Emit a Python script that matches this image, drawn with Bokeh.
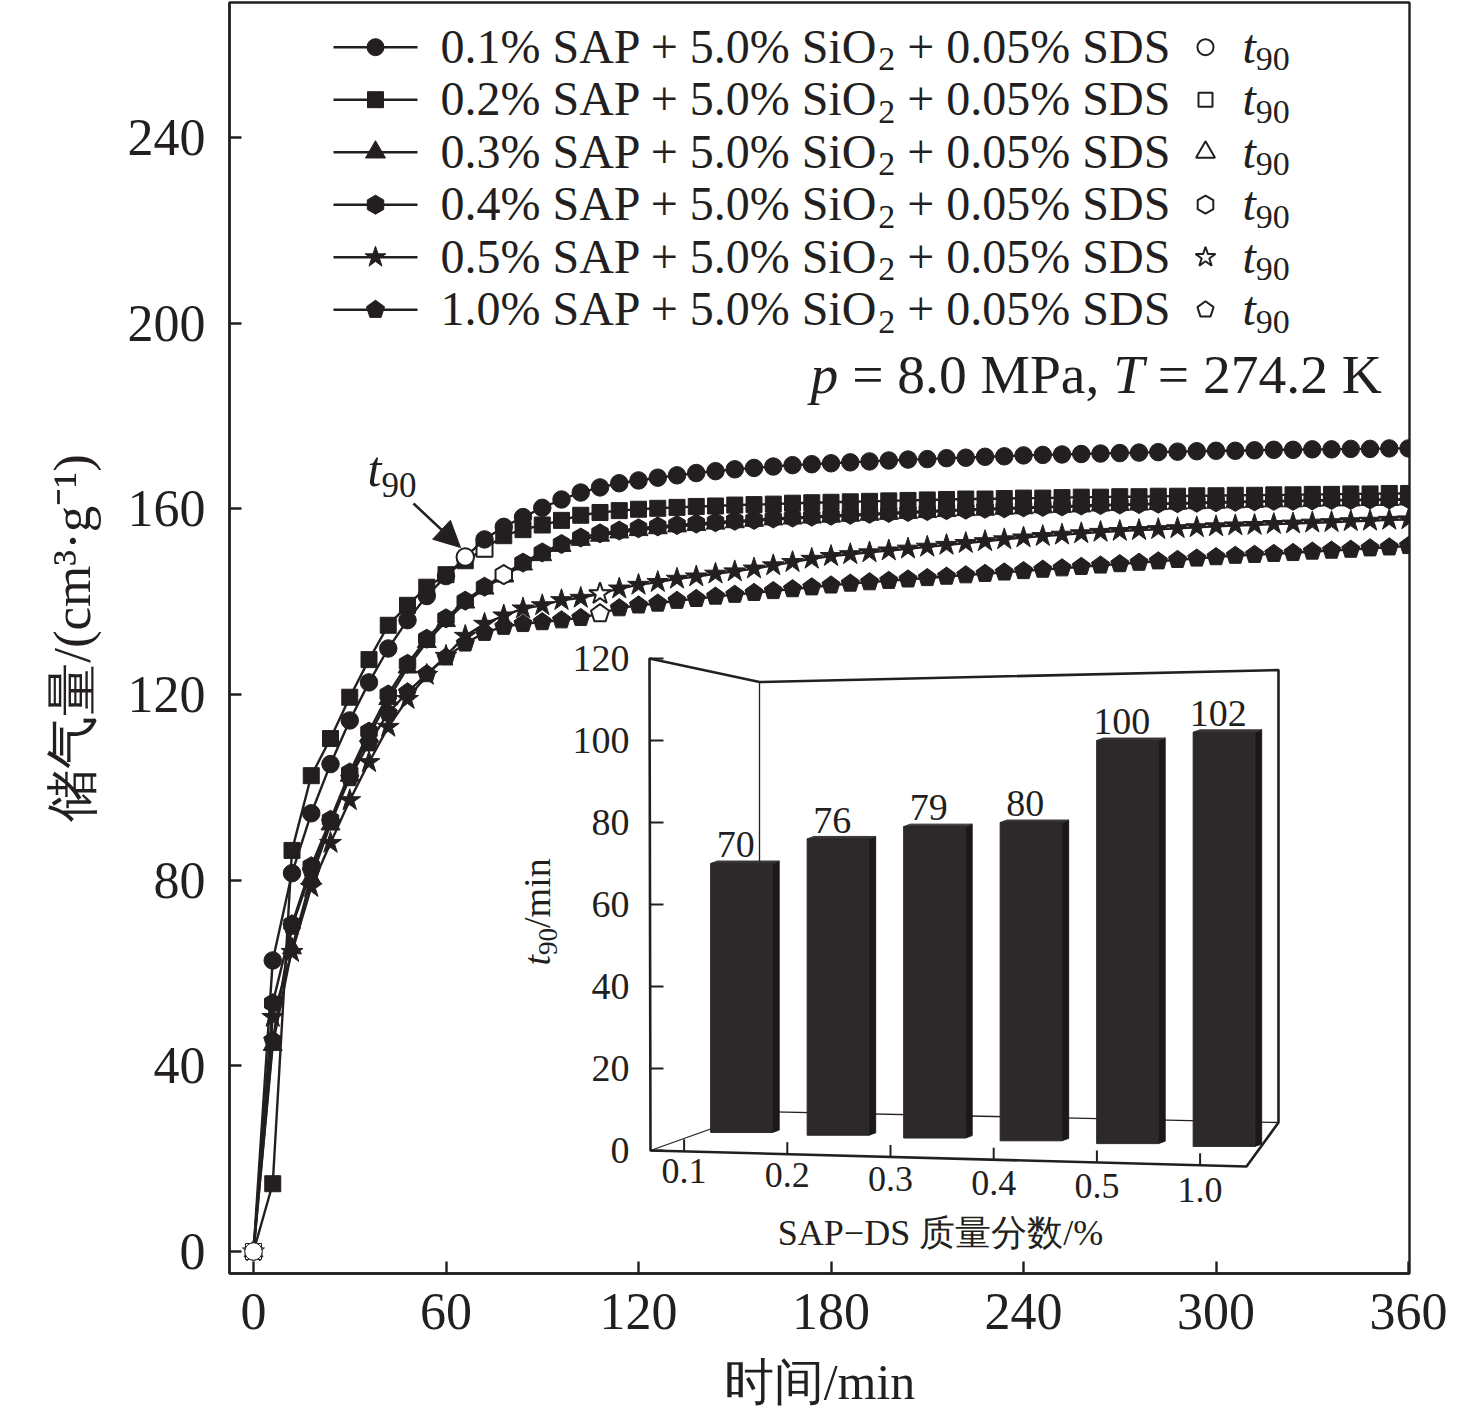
import numpy as np
from bokeh.plotting import figure
from bokeh.models import Range1d, Label, Arrow, NormalHead, FixedTicker
from bokeh.embed import file_html
from bokeh.resources import INLINE
from bokeh.core.properties import value

# ---------------- data ----------------
time_min = list(range(0, 361, 6))

sap_pct = ["0.1", "0.2", "0.3", "0.4", "0.5", "1.0"]

c01 = [0.0, 62.7, 81.5, 94.4, 105.0, 114.4, 122.6, 129.9, 136.0, 141.2,
       145.5, 149.6, 153.4, 156.1, 158.2, 160.2, 162.0, 163.5, 164.6, 165.5,
       166.1, 166.7, 167.2, 167.7, 168.1, 168.5, 168.8, 169.1, 169.4, 169.6,
       169.8, 170.0, 170.2, 170.4, 170.6, 170.7, 170.9, 171.0, 171.2, 171.3,
       171.5, 171.6, 171.7, 171.8, 171.9, 172.0, 172.1, 172.2, 172.3, 172.4,
       172.5, 172.5, 172.6, 172.7, 172.7, 172.8, 172.8, 172.9, 172.9, 173.0,
       173.0]
s02 = [0.0, 14.6, 86.4, 102.5, 110.5, 119.4, 127.5, 134.9, 139.2, 143.1,
       145.8, 148.8, 151.4, 154.2, 155.5, 156.5, 157.5, 158.6, 159.2, 159.6,
       159.9, 160.1, 160.3, 160.5, 160.6, 160.8, 160.9, 161.0, 161.2, 161.3,
       161.4, 161.5, 161.6, 161.7, 161.8, 161.9, 162.0, 162.1, 162.1, 162.2,
       162.3, 162.3, 162.4, 162.5, 162.5, 162.6, 162.6, 162.7, 162.7, 162.8,
       162.8, 162.9, 162.9, 163.0, 163.0, 163.1, 163.1, 163.2, 163.2, 163.3,
       163.3]
t03 = [0.0, 44.5, 65.3, 80.5, 92.0, 102.5, 111.0, 119.0, 125.8, 131.3,
       135.8, 139.8, 142.8, 145.5, 148.0, 150.0, 152.0, 153.3, 154.2, 154.9,
       155.4, 155.8, 156.2, 156.5, 156.8, 157.1, 157.4, 157.7, 157.9, 158.1,
       158.3, 158.5, 158.7, 158.9, 159.1, 159.3, 159.5, 159.7, 159.8, 160.0,
       160.1, 160.3, 160.4, 160.5, 160.7, 160.8, 160.9, 161.0, 161.1, 161.2,
       161.3, 161.4, 161.5, 161.6, 161.6, 161.7, 161.8, 161.8, 161.9, 161.9,
       162.0]
h04 = [0.0, 53.5, 70.5, 83.0, 93.0, 103.2, 112.0, 120.0, 126.6, 132.0,
       136.4, 140.2, 143.2, 145.8, 148.4, 150.6, 152.4, 153.8, 154.7, 155.3,
       155.8, 156.2, 156.5, 156.8, 157.1, 157.4, 157.6, 157.9, 158.1, 158.3,
       158.5, 158.7, 158.9, 159.1, 159.3, 159.5, 159.7, 159.8, 160.0, 160.1,
       160.3, 160.4, 160.5, 160.7, 160.8, 160.9, 161.0, 161.1, 161.2, 161.3,
       161.4, 161.5, 161.6, 161.7, 161.7, 161.8, 161.9, 161.9, 162.0, 162.0,
       162.1]
st05 = [0.0, 50.5, 64.5, 78.5, 88.0, 97.2, 105.4, 113.0, 119.0, 124.2,
        128.3, 132.6, 135.2, 137.0, 138.5, 139.2, 140.3, 140.8, 141.7, 142.8,
        143.6, 144.2, 144.9, 145.4, 146.0, 146.5, 147.1, 147.8, 148.5, 149.2,
        149.8, 150.2, 150.6, 151.0, 151.4, 151.8, 152.2, 152.6, 153.0, 153.4,
        153.8, 154.1, 154.4, 154.7, 155.0, 155.2, 155.4, 155.6, 155.8, 156.0,
        156.2, 156.4, 156.5, 156.7, 156.8, 157.0, 157.1, 157.3, 157.4, 157.6,
        157.7]
p10 = [0.0, 45.5, 70.0, 82.0, 92.5, 102.0, 109.5, 116.0, 120.5, 124.4,
       128.0, 131.0, 133.3, 134.6, 135.2, 135.6, 136.0, 136.5, 137.4, 138.6,
       139.2, 139.6, 140.2, 140.6, 141.1, 141.5, 141.9, 142.3, 142.7, 143.1,
       143.5, 143.9, 144.2, 144.5, 144.8, 145.1, 145.4, 145.7, 146.0, 146.3,
       146.6, 146.9, 147.2, 147.5, 147.8, 148.1, 148.4, 148.7, 149.0, 149.3,
       149.6, 149.9, 150.1, 150.3, 150.5, 150.8, 151.0, 151.2, 151.5, 151.7,
       152.0]

t90_marker_time = [66, 72, 78, 78, 108, 108]   # open-symbol positions on curves
t90_values = [70, 76, 79, 80, 100, 102]         # inset bars (min)

x_ticks = [0, 60, 120, 180, 240, 300, 360]
y_ticks = [0, 40, 80, 120, 160, 200, 240]
inset_y_ticks = [0, 20, 40, 60, 80, 100, 120]

series = [c01, s02, t03, h04, st05, p10]
markers = ["circle", "square", "triangle", "hex", "star", "pentagon"]

# ---------------- style ----------------
INK = "#231f20"
SERIF = "Liberation Serif"

FT, FB = 2, 1273          # frame top / bottom in page pixels
FL, FR = 229, 1409        # frame left / right

p = figure(frame_width=FR - FL, frame_height=FB - FT,
           x_range=Range1d(-7.48, 360.3), y_range=Range1d(-4.74, 269.06),
           output_backend="svg", toolbar_location=None,
           min_border_left=FL, min_border_right=60,
           min_border_top=FT, min_border_bottom=140,
           background_fill_color="white", border_fill_color="white")
# helper coordinate systems: page-pixel space and inset space
p.extra_x_ranges = {"px": Range1d(FL, FR), "ix": Range1d(-5.306, 6.922)}
p.extra_y_ranges = {"py": Range1d(FB, FT), "iy": Range1d(-30.0, 280.0)}

p.grid.visible = False
p.outline_line_color = INK
p.outline_line_width = 2.4
p.outline_line_alpha = 1
p.xaxis.ticker = FixedTicker(ticks=x_ticks)
p.yaxis.ticker = FixedTicker(ticks=y_ticks)
for ax in (p.xaxis, p.yaxis):
    ax.major_tick_in = 12
    ax.major_tick_out = 0
    ax.minor_tick_line_color = None
    ax.axis_line_width = 2.4
    ax.axis_line_color = INK
    ax.major_tick_line_width = 2.4
    ax.major_tick_line_color = INK
    ax.major_label_text_font = SERIF
    ax.major_label_text_font_size = "52px"
    ax.major_label_text_color = INK
    ax.axis_label_text_font = SERIF
    ax.axis_label_text_font_size = "50px"
    ax.axis_label_text_font_style = "normal"
    ax.axis_label_text_color = INK
p.xaxis.axis_label = "时间/min"
p.yaxis.axis_label = "储气量/(cm³·g⁻¹)"
p.yaxis.axis_label_text_font_size = "53px"
p.yaxis.major_label_standoff = 24
p.yaxis.axis_label_standoff = 24
p.xaxis.major_label_standoff = 20
p.xaxis.axis_label_standoff = 22

XS = (FR - FL) / (360.3 + 7.48)      # px per minute
YS = (FB - FT) / (269.06 + 4.74)     # px per unit


def pent_patches(cx, cy, rx, ry, down=False):
    ang = np.pi / 2 + 2 * np.pi * np.arange(5) / 5
    sgn = -1 if down else 1
    xs = [list(x + rx * np.cos(ang)) for x in cx]
    ys = [list(y + sgn * ry * np.sin(ang)) for y in cy]
    return xs, ys


sizes = {"circle": 17.5, "square": 16, "triangle": 19, "hex": 19, "star": 23}
PR = 9.5

# draw in reverse so 0.1% lies on top
order = [5, 4, 2, 3, 1, 0]
for k in order:
    vals = series[k]
    t = time_min[:len(vals)]
    mk = markers[k]
    fills = ["white"] + [INK] * (len(vals) - 1)
    p.line(t, vals, line_color=INK, line_width=2.4)
    if mk == "pentagon":
        xs, ys = pent_patches(t, vals, PR / XS, PR / YS)
        p.patches(xs, ys, fill_color=fills, line_color=INK, line_width=1)
    else:
        ang = np.pi / 6 if mk == "hex" else 0.0
        p.scatter(t, vals, marker=mk, size=sizes[mk], angle=ang,
                  fill_color=fills, line_color=INK, line_width=1)
    # open t90 symbol
    i90 = t90_marker_time[k] // 6
    tx, ty = time_min[i90], vals[i90]
    if mk == "pentagon":
        xs, ys = pent_patches([tx], [ty], PR / XS, PR / YS)
        p.patches(xs, ys, fill_color="white", line_color=INK, line_width=2)
    else:
        ang = np.pi / 6 if mk == "hex" else 0.0
        p.scatter([tx], [ty], marker=mk, size=sizes[mk], angle=ang,
                  fill_color="white", line_color=INK, line_width=2)

# ---------------- rich text helper ----------------
W = {' ': 250, '%': 833, '+': 564, ',': 250, '.': 250, '/': 278, '=': 564,
     'A': 722, 'D': 722, 'K': 722, 'M': 889, 'O': 722, 'P': 556, 'S': 556,
     'T': 611, 'a': 444, 'i': 278, 'm': 778, 'n': 500, 'p': 500}
WI = {'p': 500, 't': 278, 'T': 556}
BASE_SHIFT = 0.375   # Label alphabetic offset observed in svg output


def twidth(s, size, italic=False):
    tot = 0
    for ch in s:
        if ch.isdigit():
            tot += 500
        elif italic and ch in WI:
            tot += WI[ch]
        else:
            tot += W.get(ch, 500)
    return tot / 1000 * size


def rich(x, y, parts, vertical=False):
    cur = x if not vertical else y
    for txt, size, style, dy in parts:
        italic = style == "italic"
        stripped = txt.strip(' ')
        lead = len(txt) - len(txt.lstrip(' '))
        wlead = twidth(' ' * lead, size)
        wfull = twidth(txt, size, italic)
        if vertical:
            lab = Label(x=x + dy - BASE_SHIFT * size, y=cur - wlead, text=stripped,
                        angle=np.pi / 2, x_range_name="px", y_range_name="py")
        else:
            lab = Label(x=cur + wlead, y=y + dy - BASE_SHIFT * size, text=stripped,
                        x_range_name="px", y_range_name="py")
        lab.text_font = SERIF
        lab.text_font_size = f"{size}px"
        lab.text_font_style = style
        lab.text_color = INK
        lab.text_baseline = "alphabetic"
        lab.text_align = "left"
        p.add_layout(lab)
        cur = cur + wfull if not vertical else cur - wfull


# ---------------- legend ----------------
row0, dyrow = 46.7, 52.5
leg_x0, leg_x1, leg_m = 333, 417, 375
open_x = 1205
for k in range(6):
    ry = row0 + dyrow * k
    mk = markers[k]
    p.segment(x0=[leg_x0], y0=[ry], x1=[leg_x1], y1=[ry], line_color=INK,
              line_width=2.4, x_range_name="px", y_range_name="py")
    if mk == "pentagon":
        xs, ys = pent_patches([leg_m], [ry], 9.5, 9.5, down=True)
        p.patches(xs, ys, fill_color=INK, line_color=INK,
                  x_range_name="px", y_range_name="py")
        xs, ys = pent_patches([open_x], [ry], 8.5, 8.5, down=True)
        p.patches(xs, ys, fill_color="white", line_color=INK, line_width=2,
                  x_range_name="px", y_range_name="py")
    else:
        ang = np.pi / 6 if mk == "hex" else 0.0
        s_leg = {"circle": 17, "square": 16, "triangle": 20, "hex": 19, "star": 22}[mk]
        p.scatter([leg_m], [ry], marker=mk, size=s_leg, angle=ang, fill_color=INK,
                  line_color=INK, x_range_name="px", y_range_name="py")
        s_op = {"circle": 16, "square": 14, "triangle": 19, "hex": 18, "star": 21}[mk]
        p.scatter([open_x], [ry], marker=mk, size=s_op, angle=ang, fill_color="white",
                  line_color=INK, line_width=2, x_range_name="px", y_range_name="py")
    rich(440, ry + 17, [(f"{sap_pct[k]}% SAP + 5.0% SiO", 48, "normal", 0),
                        ("2", 34, "normal", 8),
                        (" + 0.05% SDS", 48, "normal", 0)])
    rich(1242, ry + 17, [("t", 48, "italic", 0), ("90", 34, "normal", 8)])

# condition text
rich(810, 395, [("p", 55.5, "italic", 0), (" = 8.0 MPa, ", 55.5, "normal", 0),
                ("T", 55.5, "italic", 0), (" = 274.2 K", 55.5, "normal", 0)])

# t90 annotation with arrow
rich(367, 487, [("t", 50, "italic", 0), ("90", 35, "normal", 11)])
p.add_layout(Arrow(end=NormalHead(size=26, fill_color=INK, line_color=INK),
                   x_start=413, y_start=503, x_end=460, y_end=547,
                   line_color=INK, line_width=2.5,
                   x_range_name="px", y_range_name="py"))

# ---------------- inset (3-D bar chart) ----------------
A = (649, 658); B = (759, 681.5); C = (1278, 669.6); D = (1278, 1122)
E = (1246, 1166); F = (650, 1150); G = (759, 1111)
# thin back lines
p.multi_line(xs=[[B[0], G[0]], [F[0], G[0], D[0]]],
             ys=[[B[1], G[1]], [F[1], G[1], D[1]]],
             line_color=INK, line_width=1.3, x_range_name="px", y_range_name="py")

idx = np.arange(len(t90_values))
half = 0.32
dxs, dys = 0.07, 0.6
base = 4.4 - 0.68 * idx
vals_b = np.array(t90_values, dtype=float)
side_x = [[i + half, i + half + dxs, i + half + dxs, i + half] for i in idx]
side_y = [[b, b + dys, v + dys, v] for b, v in zip(base, vals_b)]
p.patches(side_x, side_y, fill_color="#1b1819", line_color="#1b1819",
          x_range_name="ix", y_range_name="iy")
top_x = [[i - half, i + half, i + half + dxs, i - half + dxs] for i in idx]
top_y = [[v, v, v + dys, v + dys] for v in vals_b]
p.patches(top_x, top_y, fill_color="#3a3637", line_color="#3a3637",
          x_range_name="ix", y_range_name="iy")
p.quad(left=idx - half, right=idx + half, bottom=base, top=vals_b,
       fill_color="#2d292a", line_color="#2d292a",
       x_range_name="ix", y_range_name="iy")
p.text(x=idx - 0.06, y=vals_b + 1.5, text=[str(v) for v in t90_values],
       text_font=value(SERIF), text_font_size="38px", text_color=INK,
       text_align="center", text_baseline="bottom",
       x_range_name="ix", y_range_name="iy")

# outer box lines
p.line(x=[F[0], A[0], B[0], C[0], D[0], E[0], F[0]],
       y=[F[1], A[1], B[1], C[1], D[1], E[1], F[1]],
       line_color=INK, line_width=2.6, x_range_name="px", y_range_name="py")

# inset y ticks and labels
yt = np.array(inset_y_ticks, dtype=float)
p.segment(x0=[649] * len(yt), y0=yt, x1=[663] * len(yt), y1=yt,
          line_color=INK, line_width=2, x_range_name="px", y_range_name="iy")
p.text(x=[629] * len(yt), y=yt, text=[str(int(v)) for v in yt],
       text_font=value(SERIF), text_font_size="38px", text_color=INK,
       text_align="right", text_baseline="middle",
       x_range_name="px", y_range_name="iy")

# inset x ticks on slanted front edge
tick_px = 683.6 + 103.2 * idx
edge_py = F[1] + (tick_px - F[0]) * (E[1] - F[1]) / (E[0] - F[0])
p.segment(x0=tick_px, y0=edge_py, x1=tick_px, y1=edge_py - 12,
          line_color=INK, line_width=2, x_range_name="px", y_range_name="py")
p.text(x=tick_px, y=edge_py + 8 + 1.0 * idx, text=sap_pct,
       text_font=value(SERIF), text_font_size="36px", text_color=INK,
       text_align="center", text_baseline="top",
       x_range_name="px", y_range_name="py")

xl = Label(x=940, y=1246 - BASE_SHIFT * 36, text="SAP−DS 质量分数/%",
           x_range_name="px", y_range_name="py", text_align="center",
           text_baseline="alphabetic", text_font=SERIF,
           text_font_size="36px", text_color=INK)
p.add_layout(xl)

# inset y label (rotated)
rich(551, 965, [("t", 38, "italic", 0), ("90", 27, "normal", 7),
                ("/min", 38, "normal", 0)], vertical=True)

open("out.html", "w").write(file_html(p, INLINE))
